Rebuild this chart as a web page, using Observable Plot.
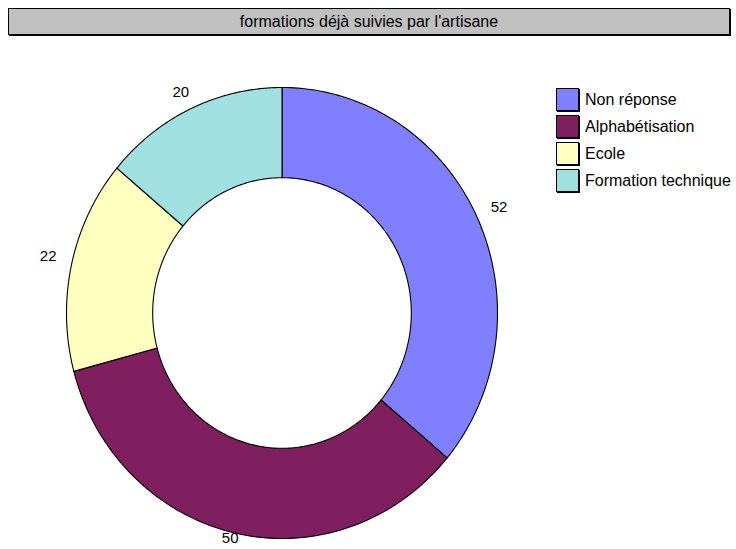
<!DOCTYPE html>
<html><head><meta charset="utf-8">
<script src="https://cdn.jsdelivr.net/npm/d3@7"></script>
<script src="https://cdn.jsdelivr.net/npm/@observablehq/plot@0.6"></script>
<style>
body{margin:0;background:#fff;font-family:"Liberation Sans",Arial,sans-serif;}
#wrap{position:relative;width:736px;height:549px;overflow:hidden;}
#title{position:absolute;left:8px;top:8px;width:720px;height:25px;background:#c0c0c0;border:1px solid #000;box-shadow:1px 1px 0 #000;font-size:16px;line-height:25px;text-align:center;color:#000;}
#legend{position:absolute;left:556px;top:86px;}
.item{display:flex;align-items:center;height:27px;white-space:nowrap;font-size:16px;color:#000;}
.sw{width:23px;height:23px;border:1px solid #000;margin-right:6px;box-sizing:border-box;box-shadow:1px 1px 0 #000;}
</style></head>
<body>
<div id="wrap"></div>
<script>
const title = "formations déjà suivies par l'artisane";
const categories = ["Non réponse", "Alphabétisation", "Ecole", "Formation technique"];
const values = [52, 50, 22, 20];
const colors = ["#8080ff", "#7f1f5f", "#ffffc0", "#a0e0e0"];
const innerRatio = 0.6;

const total = d3.sum(values);
const polys = [];
const labels = [];
let cum = 0;
categories.forEach((name, i) => {
  const a0 = cum / total * 2 * Math.PI;
  cum += values[i];
  const a1 = cum / total * 2 * Math.PI;
  const n = 120;
  for (let k = 0; k <= n; k++) {
    const a = a0 + (a1 - a0) * k / n;
    polys.push({name, x: Math.sin(a), y: Math.cos(a)});
  }
  for (let k = n; k >= 0; k--) {
    const a = a0 + (a1 - a0) * k / n;
    polys.push({name, x: innerRatio * Math.sin(a), y: innerRatio * Math.cos(a)});
  }
  const m = (a0 + a1) / 2;
  labels.push({text: String(values[i]), x: Math.sin(m) * (1 + 24 / 215.5), y: Math.cos(m) * (1 + 11 / 225.5)});
});

const chart = Plot.plot({
  width: 736,
  height: 549,
  margin: 0,
  style: {fontFamily: "'Liberation Sans', Arial, sans-serif", fontSize: "16px", background: "transparent", color: "#000"},
  x: {domain: [-1, 1], range: [66, 497], axis: null},
  y: {domain: [-1, 1], range: [538, 87], axis: null},
  color: {domain: categories, range: colors},
  marks: [
    Plot.line(polys, {x: "x", y: "y", z: "name", fill: "name", stroke: "#000", strokeWidth: 1.1, curve: "linear-closed"}),
    Plot.text(labels, {x: "x", y: "y", dy: -6, text: "text", fontSize: 15, fill: "#000"})
  ]
});

const wrap = document.getElementById("wrap");
wrap.appendChild(chart);
const t = document.createElement("div");
t.id = "title"; t.textContent = title;
wrap.appendChild(t);
const lg = document.createElement("div");
lg.id = "legend";
categories.forEach((c, i) => {
  const it = document.createElement("div"); it.className = "item";
  const sw = document.createElement("div"); sw.className = "sw"; sw.style.background = colors[i];
  const tx = document.createElement("span"); tx.textContent = c;
  it.appendChild(sw); it.appendChild(tx); lg.appendChild(it);
});
wrap.appendChild(lg);
</script>
</body></html>
